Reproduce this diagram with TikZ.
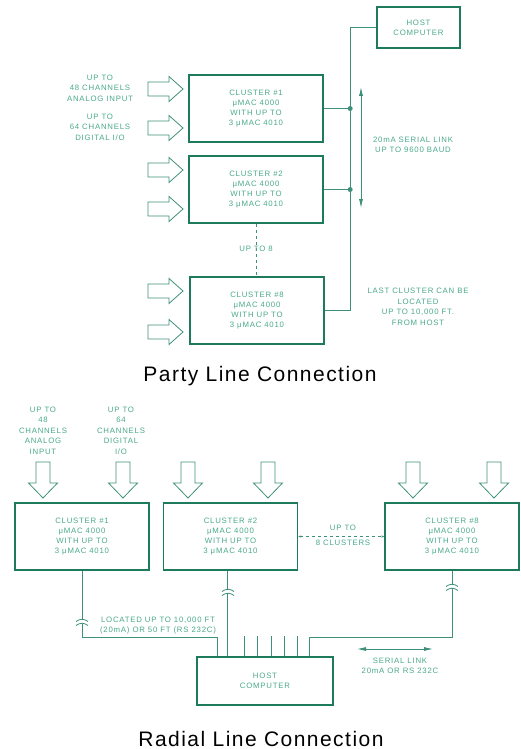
\documentclass[tikz,border=0pt]{standalone}
\usepackage{fontspec}
\usepackage{xcolor}
\usepackage{tikz}
\usetikzlibrary{positioning, arrows.meta, calc}
\newfontfamily\diagfont[LetterSpace=10]{Liberation Sans}
\newfontfamily\titlefont[LetterSpace=7]{Liberation Sans}
\definecolor{boxGreen}{HTML}{1E7A5C}
\definecolor{wireGreen}{HTML}{3D9079}
\definecolor{labelGreen}{HTML}{4AA88C}

\tikzset{
  cluster/.style={draw=boxGreen, line width=1.6pt, minimum width=134pt, minimum height=67pt,
    align=center, text=labelGreen, font=\diagfont\fontsize{7.8}{10}\selectfont, inner sep=0pt},
  hostbox/.style={cluster, minimum width=83pt, minimum height=41pt},
  wire/.style={draw=wireGreen, line width=0.8pt},
  note/.style={text=labelGreen, align=center, font=\diagfont\fontsize{7.8}{10.5}\selectfont, inner sep=0pt},
  hollowarrow/.style={draw=wireGreen, line width=0.8pt, line join=miter},
  caption/.style={font=\titlefont\fontsize{21}{24}\selectfont, inner sep=0pt, anchor=base},
}

\newcommand{\breakmark}[2]{%
  \fill[white] (#1-4,#2-2) rectangle (#1+4,#2+2);
  \draw[wire] (#1-6,#2-0.5) .. controls (#1-2,#2-3.5) and (#1+2,#2-3.5) .. (#1+6,#2-0.5);
  \draw[wire] (#1-6,#2+3.5) .. controls (#1-2,#2+0.5) and (#1+2,#2+0.5) .. (#1+6,#2+3.5);
}

\begin{document}
\begin{tikzpicture}[x=1pt, y=-1pt]
        \useasboundingbox (0,0) rectangle (521,749);
        % ── Party line: host, three clusters on one bus
        \node[hostbox] (host) at (418.5,27.5) {HOST\\COMPUTER};
        \node[cluster] (clusterA) at (256,108.5) {CLUSTER \#1\\μMAC 4000\\WITH UP TO\\3 μMAC 4010};
        \node[cluster] (clusterB) at (256,189.5) {CLUSTER \#2\\μMAC 4000\\WITH UP TO\\3 μMAC 4010};
        \node[cluster] (clusterH) at (257,310.5) {CLUSTER \#8\\μMAC 4000\\WITH UP TO\\3 μMAC 4010};
        \coordinate (busTop) at ($(host.west)+(-26,0)$);
        \draw[wire] (host.west) -- (busTop) |- (clusterH.east);
        \foreach \c in {clusterA, clusterB} {
          \draw[wire] (\c.east) -- (\c.east -| busTop);
          \fill[wireGreen] (\c.east -| busTop) circle (2.5);
        }
        \draw[wire, dashed] (clusterB.south) -- (clusterB.south |- clusterH.north);
        \node[note] (upTo) at (256,249) {UP TO 8};
        % ── Serial link arrow and notes
        \coordinate (linkTop) at (361,87);
        \coordinate (linkBot) at (361,208);
        \draw[wire, {Latex[length=9pt,width=4pt]}-{Latex[length=9pt,width=4pt]}] (linkTop) -- (linkBot);
        \node[note] (linkLabel) at (413,145) {20mA SERIAL LINK\\UP TO 9600 BAUD};
        \node[note] (lastLabel) at (418,307) {LAST CLUSTER CAN BE\\LOCATED\\UP TO 10,000 FT.\\FROM HOST};
        % ── Inputs
        \node[note] (analogIn) at (100,88) {UP TO\\48 CHANNELS\\ANALOG INPUT};
        \node[note] (digitalIn) at (100,127) {UP TO\\64 CHANNELS\\DIGITAL I/O};
        \foreach \y in {89,128,170,209,291,332} {
          \draw[hollowarrow] (183,\y) -- ++(-14,-12.5) -- ++(0,5.5) -- ++(-21,0) -- ++(0,14)
            -- ++(21,0) -- ++(0,5.5) -- cycle;
        }
        \node[caption] (partyTitle) at (260,381) {Party Line Connection};

        % ── Radial: clusters side by side, each wired to the host
        \node[cluster] (radA) at (82,536.5) {CLUSTER \#1\\μMAC 4000\\WITH UP TO\\3 μMAC 4010};
        \node[cluster] (radB) at (230.5,536.5) {CLUSTER \#2\\μMAC 4000\\WITH UP TO\\3 μMAC 4010};
        \node[cluster] (radH) at (452,536.5) {CLUSTER \#8\\μMAC 4000\\WITH UP TO\\3 μMAC 4010};
        \node[hostbox, minimum width=136pt, minimum height=48pt] (radHost) at (265,681) {HOST\\COMPUTER};
        \draw[wire, dashed, {Stealth[length=3pt]}-{Stealth[length=3pt]}] (radB.east) -- (radH.west);
        \node[note] (upToEight) at (343,535.5) {UP TO\\[5pt]8 CLUSTERS};
        \coordinate (portA) at ($(radHost.north west)+(21,0)$);
        \coordinate (portB) at ($(radHost.north west)+(31,0)$);
        \coordinate (portH) at ($(radHost.north west)+(113,0)$);
        \draw[wire] (radA.south) |- ($(portA)+(0,-19)$) -- (portA);
        \draw[wire] (radB.south -| portB) -- (portB);
        \draw[wire] (radH.south) |- ($(portH)+(0,-19)$) -- (portH);
        \foreach \dx in {48,61,75,88,101} {
          \draw[wire] ($(radHost.north west)+(\dx,0)$) -- ++(0,-20);
        }
        \breakmark{82}{622}
        \breakmark{228}{592}
        \breakmark{452}{587}
        \node[note] (rangeLabel) at (158,625.5) {LOCATED UP TO 10,000 FT\\(20mA) OR 50 FT (RS 232C)};
        \coordinate (serialL) at (357,649);
        \coordinate (serialR) at (433,649);
        \draw[wire, {Latex[length=9pt,width=4pt]}-{Latex[length=9pt,width=4pt]}] (serialL) -- (serialR);
        \node[note] (serialLabel) at (400,666) {SERIAL LINK\\20mA OR RS 232C};
        % ── Inputs from above
        \node[note] (analogTop) at (43,430.5) {UP TO\\48\\CHANNELS\\ANALOG\\INPUT};
        \node[note] (digitalTop) at (121,430.5) {UP TO\\64\\CHANNELS\\DIGITAL\\I/O};
        \foreach \x in {43,123,188,268,413,494} {
          \draw[hollowarrow] (\x,498) -- ++(-14.5,-15) -- ++(7.5,0) -- ++(0,-21) -- ++(14,0)
            -- ++(0,21) -- ++(7.5,0) -- cycle;
        }
        \node[caption] (radialTitle) at (261,746) {Radial Line Connection};
      \end{tikzpicture}
\end{document}
